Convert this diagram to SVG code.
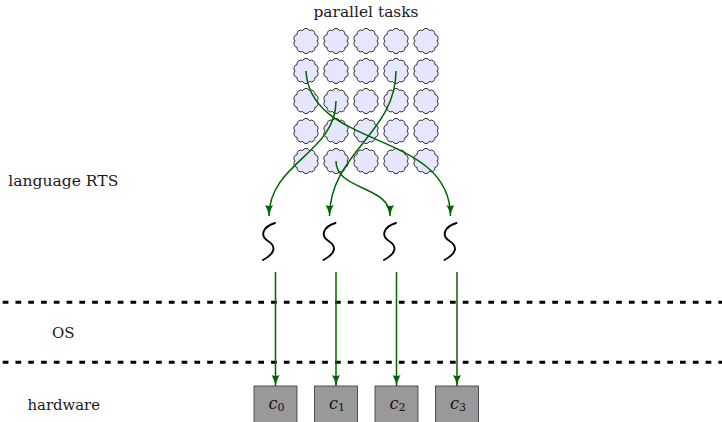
<svg xmlns="http://www.w3.org/2000/svg" xmlns:xlink="http://www.w3.org/1999/xlink" width="722" height="422" viewBox="0 0 722 422">
  <style>
    .label { font-family: "DejaVu Serif", "Liberation Serif", serif; font-size: 15px; fill: #1a1a1a; }
    .task { fill: #e6e6ff; stroke: #000; stroke-width: 0.8; }
    .thread { fill: none; stroke: #000; stroke-width: 1.9; stroke-linecap: round; }
    .core { fill: #999999; stroke: #333; stroke-width: 0.8; }
    .layer { fill: none; stroke: #000; stroke-width: 3; stroke-dasharray: 5.7 7.08; }
    .flow { fill: none; stroke: #006400; stroke-width: 1.5; marker-end: url(#arrow); }
  </style>
  <defs>
    <!-- ten-puff cloud centred on the origin -->
    <path id="cloud" d="M11,0 A3.8,3.8 0 0 1 8.899,6.466 A3.8,3.8 0 0 1 3.399,10.462 A3.8,3.8 0 0 1 -3.399,10.462 A3.8,3.8 0 0 1 -8.899,6.466 A3.8,3.8 0 0 1 -11,0 A3.8,3.8 0 0 1 -8.899,-6.466 A3.8,3.8 0 0 1 -3.399,-10.462 A3.8,3.8 0 0 1 3.399,-10.462 A3.8,3.8 0 0 1 8.899,-6.466 A3.8,3.8 0 0 1 11,0 Z"/>
    <!-- thread squiggle centred on the origin -->
    <path id="squiggle" d="M6,-18 C-7,-14 -9,-5 -1,0 C7,5 7,12 -6,19"/>
    <marker id="arrow" viewBox="0 0 11 8" refX="11" refY="4" markerWidth="11" markerHeight="8" markerUnits="userSpaceOnUse" orient="auto">
      <path d="M11,4 Q5,5 0,8 Q1.8,4 0,0 Q5,3 11,4 Z" fill="#006400"/>
    </marker>
  </defs>

  <!-- layer labels -->
  <g id="label-tasks"><text class="label" x="366" y="17" text-anchor="middle" textLength="105" lengthAdjust="spacingAndGlyphs">parallel tasks</text></g>
  <g id="label-rts"><text class="label" x="8.3" y="186" textLength="110" lengthAdjust="spacingAndGlyphs">language RTS</text></g>
  <g id="label-os"><text class="label" x="63.3" y="338" text-anchor="middle">OS</text></g>
  <g id="label-hw"><text class="label" x="27.5" y="410" textLength="72.5" lengthAdjust="spacingAndGlyphs">hardware</text></g>

  <!-- layer separators -->
  <g id="separators">
    <line class="layer" x1="2.7" y1="302.3" x2="722" y2="302.3"/>
    <line class="layer" x1="2.7" y1="362.3" x2="722" y2="362.3"/>
  </g>

  <!-- 5x5 grid of tasks -->
  <g id="tasks">
    <g id="task-1-1"><use xlink:href="#cloud" class="task" x="306" y="41"/></g>
    <g id="task-1-2"><use xlink:href="#cloud" class="task" x="336" y="41"/></g>
    <g id="task-1-3"><use xlink:href="#cloud" class="task" x="366" y="41"/></g>
    <g id="task-1-4"><use xlink:href="#cloud" class="task" x="396" y="41"/></g>
    <g id="task-1-5"><use xlink:href="#cloud" class="task" x="426" y="41"/></g>
    <g id="task-2-1"><use xlink:href="#cloud" class="task" x="306" y="71"/></g>
    <g id="task-2-2"><use xlink:href="#cloud" class="task" x="336" y="71"/></g>
    <g id="task-2-3"><use xlink:href="#cloud" class="task" x="366" y="71"/></g>
    <g id="task-2-4"><use xlink:href="#cloud" class="task" x="396" y="71"/></g>
    <g id="task-2-5"><use xlink:href="#cloud" class="task" x="426" y="71"/></g>
    <g id="task-3-1"><use xlink:href="#cloud" class="task" x="306" y="101"/></g>
    <g id="task-3-2"><use xlink:href="#cloud" class="task" x="336" y="101"/></g>
    <g id="task-3-3"><use xlink:href="#cloud" class="task" x="366" y="101"/></g>
    <g id="task-3-4"><use xlink:href="#cloud" class="task" x="396" y="101"/></g>
    <g id="task-3-5"><use xlink:href="#cloud" class="task" x="426" y="101"/></g>
    <g id="task-4-1"><use xlink:href="#cloud" class="task" x="306" y="131"/></g>
    <g id="task-4-2"><use xlink:href="#cloud" class="task" x="336" y="131"/></g>
    <g id="task-4-3"><use xlink:href="#cloud" class="task" x="366" y="131"/></g>
    <g id="task-4-4"><use xlink:href="#cloud" class="task" x="396" y="131"/></g>
    <g id="task-4-5"><use xlink:href="#cloud" class="task" x="426" y="131"/></g>
    <g id="task-5-1"><use xlink:href="#cloud" class="task" x="306" y="161"/></g>
    <g id="task-5-2"><use xlink:href="#cloud" class="task" x="336" y="161"/></g>
    <g id="task-5-3"><use xlink:href="#cloud" class="task" x="366" y="161"/></g>
    <g id="task-5-4"><use xlink:href="#cloud" class="task" x="396" y="161"/></g>
    <g id="task-5-5"><use xlink:href="#cloud" class="task" x="426" y="161"/></g>
  </g>

  <!-- runtime threads -->
  <g id="thread-0"><use xlink:href="#squiggle" class="thread" x="269" y="241"/></g>
  <g id="thread-1"><use xlink:href="#squiggle" class="thread" x="329.5" y="241"/></g>
  <g id="thread-2"><use xlink:href="#squiggle" class="thread" x="390" y="241"/></g>
  <g id="thread-3"><use xlink:href="#squiggle" class="thread" x="450.5" y="241"/></g>

  <!-- cores -->
  <g font-family="DejaVu Serif, Liberation Serif, serif" fill="#111">
    <g id="core-0"><rect class="core" x="254" y="386" width="43" height="40"/><text x="276.5" y="408.5" text-anchor="middle"><tspan font-style="italic" font-size="16">c</tspan><tspan font-size="11" dy="2">0</tspan></text></g>
    <g id="core-1"><rect class="core" x="314.5" y="386" width="43" height="40"/><text x="337" y="408.5" text-anchor="middle"><tspan font-style="italic" font-size="16">c</tspan><tspan font-size="11" dy="2">1</tspan></text></g>
    <g id="core-2"><rect class="core" x="375" y="386" width="43" height="40"/><text x="397.5" y="408.5" text-anchor="middle"><tspan font-style="italic" font-size="16">c</tspan><tspan font-size="11" dy="2">2</tspan></text></g>
    <g id="core-3"><rect class="core" x="435.5" y="386" width="43" height="40"/><text x="458" y="408.5" text-anchor="middle"><tspan font-style="italic" font-size="16">c</tspan><tspan font-size="11" dy="2">3</tspan></text></g>
  </g>

  <!-- connectors: task-to-thread scheduling and thread-to-core mapping -->
  <g id="connectors">
    <path class="flow" d="M306,71 C310,150 450,130 450.5,216"/>
    <path class="flow" d="M396,71 C396,133 330,153 329.5,216"/>
    <path class="flow" d="M336,101 C336,153 269,163 269,216"/>
    <path class="flow" d="M336,161 C336,191 390,185 390,216"/>
    <path class="flow" d="M275.5,272 L275.5,386"/>
    <path class="flow" d="M336,272 L336,386"/>
    <path class="flow" d="M396.5,272 L396.5,386"/>
    <path class="flow" d="M457,272 L457,386"/>
  </g>
</svg>
